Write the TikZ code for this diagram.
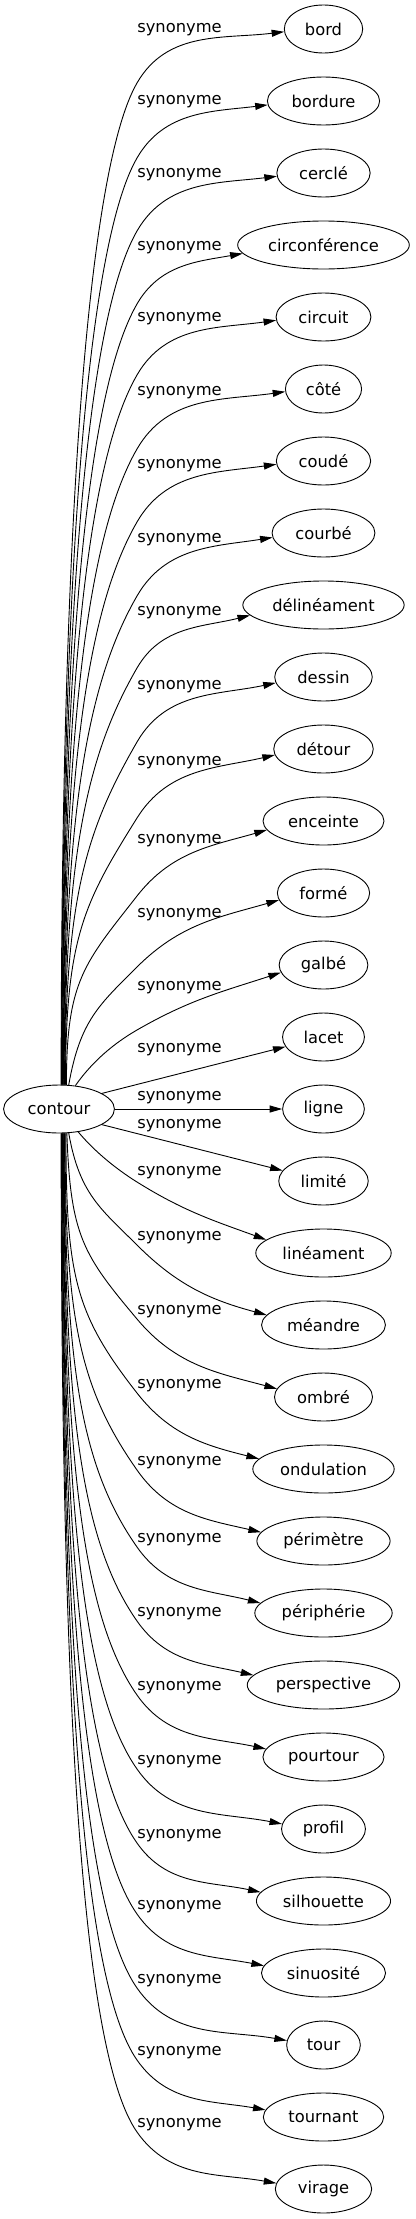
\documentclass[tikz,border=0pt]{standalone}
\usepackage{fontspec}
\setmainfont{DejaVu Sans}
\usepackage{tikz}
\usetikzlibrary{shapes, arrows.meta, calc}
\tikzstyle{word} = [ellipse, draw, line width=0.9pt, minimum height=48pt, inner sep=0pt]
\tikzstyle{rel} = [inner sep=0pt]
\tikzstyle{line} = [draw, line width=0.9pt, -{Triangle[length=12.5pt, width=7pt]}]

\begin{document}
\begin{tikzpicture}[x=1pt, y=1pt]
    \fontsize{16.3}{19}\selectfont
    \useasboundingbox (0,0) rectangle (415,-2219);
    % Nodes
    \pgfmathsetmacro\w{1.27*(width("contour")+24.6)}
    \node [word, minimum width=\w pt] (root) at (59,-1109) {contour};
    \foreach \n/\t [count=\i from 0] in {bord/bord, bordure/bordure, cercle/cerclé,
        circonference/circonférence, circuit/circuit, cote/côté, coude/coudé,
        courbe/courbé, delineament/délinéament, dessin/dessin, detour/détour,
        enceinte/enceinte, forme/formé, galbe/galbé, lacet/lacet, ligne/ligne,
        limite/limité, lineament/linéament, meandre/méandre, ombre/ombré,
        ondulation/ondulation, perimetre/périmètre, peripherie/périphérie,
        perspective/perspective, pourtour/pourtour, profil/profil,
        silhouette/silhouette, sinuosite/sinuosité, tour/tour,
        tournant/tournant, virage/virage} {
        \pgfmathsetmacro\w{1.27*(width("\t")+24.6)}
        \node [word, minimum width=\w pt] (\n) at (323.5,{-29-72*\i}) {\t};
    }
    % Edges
    \foreach \n/\L/\an/\out/\be/\h/\ps in {
        bord/30/85/90/53/60/7, bordure/102/84/90/56/60/7,
        cercle/175/83/90/56/60/7, circonference/248/82/90/56/60/10,
        circuit/319/81/90/56/60/8, cote/393/80/90/56/60/8,
        coude/466/79/90/56/60/8, courbe/540/78/90/56/60/9,
        delineament/613/77/90/55/60/14, dessin/687/76/90/55/60/12,
        detour/763/75/90/55/58/13, enceinte/841/73/90/55/52/16,
        forme/915/68/80/52/45/16, galbe/988/55/55/42/30/18,
        lineament/1173/-50/-50/9/-32/-20, meandre/1238/-68/-80/7/-45/-15,
        ombre/1312/-72/-88/7/-50/-15, ondulation/1386/-74/-90/7/-52/-14,
        perimetre/1463/-76/-90/7/-55/-13, peripherie/1540/-77/-90/7/-55/-14,
        perspective/1614/-78/-90/7/-55/-13, pourtour/1688/-79/-90/7/-55/-12,
        profil/1762/-80/-90/7/-55/-11, silhouette/1836/-81/-90/7/-55/-12,
        sinuosite/1907/-82/-90/7/-55/-11, tour/1981/-83/-90/7/-55/-10,
        tournant/2053/-84/-90/7/-55/-10, virage/2125/-85/-90/7/-55/-10} {
        \pgfmathsetmacro\dy{abs(1109-\L-\be)-23}
        \pgfmathsetmacro\a{0.55*\dy}
        \pgfmathsetmacro\b{min(100,0.45*\dy)}
        \pgfmathsetmacro\ha{\h+180}
        \pgfmathsetmacro\ia{180+\ps}
        \pgfmathsetmacro\ea{180+0.6*\ps}
        \path [line] (root.\an) .. controls +(\out:\a) and +(\ha:\b) .. (137,{-\L-\be})
            to[out=\h, in=\ia] (\n.\ea);
        \node [rel] (s\n) at (179.5,-\L) {synonyme};
    }
    \path [line] (root.20) -- (lacet);
    \node [rel] (slacet) at (179.5,-1050) {synonyme};
    \path [line] (root) -- (ligne);
    \node [rel] (sligne) at (179.5,-1098) {synonyme};
    \path [line] (root.-20) -- (limite);
    \node [rel] (slimite) at (179.5,-1126) {synonyme};
\end{tikzpicture}
\end{document}
